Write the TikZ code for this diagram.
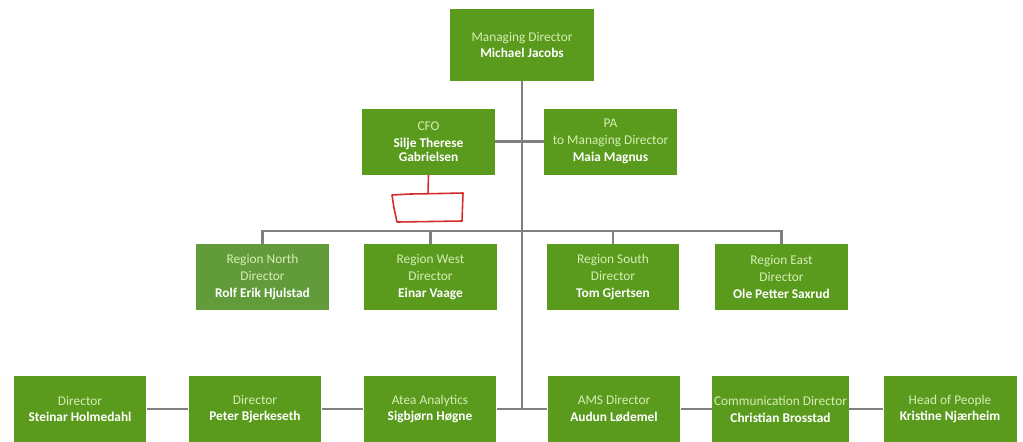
\documentclass[tikz,border=0pt]{standalone}
\usepackage{fontspec}
\setmainfont{Carlito}
\usetikzlibrary{positioning}

\definecolor{verde}{HTML}{5A9B1E}
\definecolor{verdenorte}{HTML}{629B3A}
\definecolor{titulo}{HTML}{D6EEB4}
\definecolor{linea}{HTML}{808080}
\definecolor{boceto}{HTML}{D42A2A}

\begin{document}
\begin{tikzpicture}[
    x=0.02cm, y=-0.02cm,
    % Estilos para las cajas
    caja/.style={rectangle, fill=verde, text=titulo, minimum width=2.66cm, minimum height=1.32cm,
      inner sep=1pt, align=center, font=\fontsize{7.6}{9.6}\selectfont},
    caja_md/.style={caja, minimum width=2.88cm, minimum height=1.44cm},
    conector/.style={draw=linea, line width=1.5pt},
    boceto/.style={draw=boceto, line width=0.9pt, line join=round}
    ]

    \useasboundingbox (0,0) rectangle (1023,441);
    \clip (0,0) rectangle (1023,441);

    % Direccion
    \node[caja_md] (md) at (522,45) {Managing Director\\ \textcolor{white}{\textbf{Michael Jacobs}}};
    \node[caja] (cfo) at (428.5,141.5) {CFO\\ \textcolor{white}{\textbf{Silje Therese}}\\[-1.5pt] \textcolor{white}{\textbf{Gabrielsen}}};
    \node[caja] (pa) at (610.5,141.5) {PA\\ to Managing Director\\ \textcolor{white}{\textbf{Maia Magnus}}};

    % Regiones
    \node[caja, fill=verdenorte] (norte) at (262.5,277) {Region North\\ Director\\ \textcolor{white}{\textbf{Rolf Erik Hjulstad}}};
    \node[caja] (oeste) at (430.5,277) {Region West\\ Director\\ \textcolor{white}{\textbf{Einar Vaage}}};
    \node[caja] (sur) at (613,277) {Region South\\ Director\\ \textcolor{white}{\textbf{Tom Gjertsen}}};
    \node[caja] (este) at (781.5,277) {Region East\\ Director\\ \textcolor{white}{\textbf{Ole Petter Saxrud}}};

    % Fila inferior
    \node[caja] (steinar) at (80,409) {Director\\ \textcolor{white}{\textbf{Steinar Holmedahl}}};
    \node[caja] (peter) at (255,409) {Director\\ \textcolor{white}{\textbf{Peter Bjerkeseth}}};
    \node[caja] (atea) at (430,409) {Atea Analytics\\ \textcolor{white}{\textbf{Sigbjørn Høgne}}};
    \node[caja] (ams) at (614,409) {AMS Director\\ \textcolor{white}{\textbf{Audun Lødemel}}};
    \node[caja] (comm) at (780.5,409) {Communication Director\\ \textcolor{white}{\textbf{Christian Brosstad}}};
    \node[caja] (people) at (950,409) {Head of People\\ \textcolor{white}{\textbf{Kristine Njærheim}}};

    % Puntos del tronco
    \coordinate (bus) at (522,231);
    \coordinate (bajo) at (522,409);

    % Conectores
    \draw[conector] (md.south) -- (bajo);
    \draw[conector] (cfo.east) -- (pa.west);
    \draw[conector] (norte.north) |- (bus) -| (este.north);
    \draw[conector] (oeste.north) -- (oeste.north |- bus);
    \draw[conector] (sur.north) -- (sur.north |- bus);
    \draw[conector] (steinar.east) -- (peter.west);
    \draw[conector] (peter.east) -- (atea.west);
    \draw[conector] (atea.east) -- (ams.west);
    \draw[conector] (ams.east) -- (comm.west);
    \draw[conector] (comm.east) -- (people.west);

    % Boceto a mano (rojo)
    \coordinate (sk) at (428,194);
    \draw[boceto] (cfo.south) -- (sk);
    \draw[boceto] (392,195) -- (410,194) -- (440,193.5) -- (463,193) -- (462.5,207) -- (462,221)
      -- (430,221.5) -- (397,222) -- (394,208) -- cycle;

\end{tikzpicture}
\end{document}
